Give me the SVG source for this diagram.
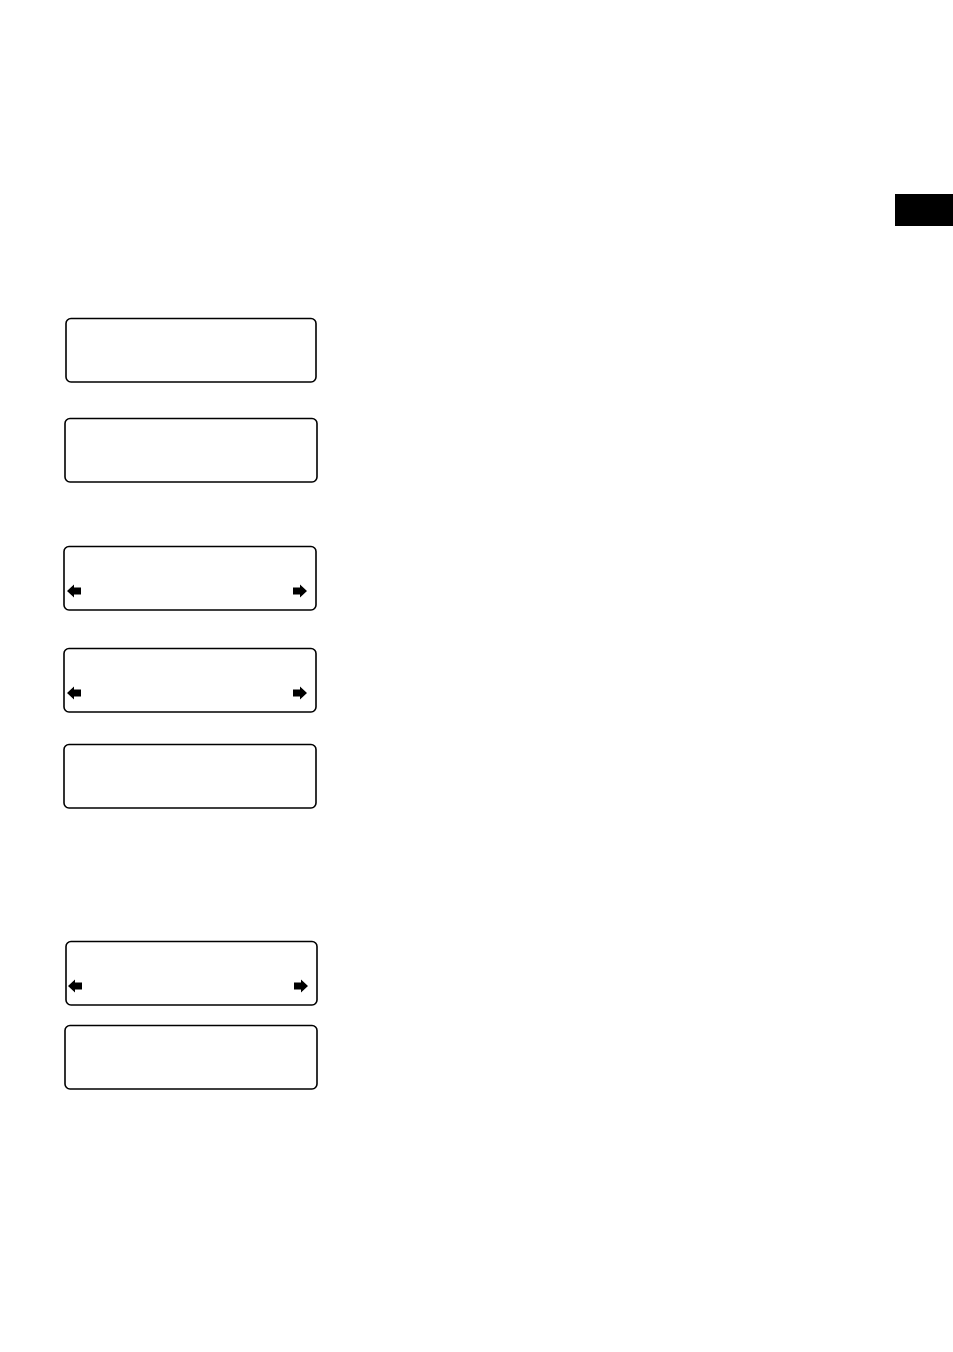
<svg xmlns="http://www.w3.org/2000/svg" width="953" height="1352" viewBox="0 0 953 1352">
<style>
.box{fill:#fff;stroke:#000;stroke-width:1.6}
.arr{fill:#000}
</style>
<defs>
<path id="la" d="M0,0 L7,-6.5 L7,-3.5 L14,-3.5 L14,3.5 L7,3.5 L7,6.5 Z"/>
<path id="ra" d="M0,0 L-7,-6.5 L-7,-3.5 L-14,-3.5 L-14,3.5 L-7,3.5 L-7,6.5 Z"/>
</defs>
<rect x="0" y="0" width="953" height="1352" fill="#fff"/>
<rect id="tab" x="895" y="194" width="58" height="32" fill="#000"/>
<g id="node1"><rect class="box" x="66" y="318.5" width="250" height="63.5" rx="5"/></g>
<g id="node2"><rect class="box" x="65" y="418.5" width="252" height="63.5" rx="5"/></g>
<g id="node3"><rect class="box" x="64" y="546.5" width="252" height="63.5" rx="5"/>
<use class="arr" href="#la" x="67" y="591"/><use class="arr" href="#ra" x="307" y="591"/></g>
<g id="node4"><rect class="box" x="64" y="648.5" width="252" height="63.5" rx="5"/>
<use class="arr" href="#la" x="67" y="693"/><use class="arr" href="#ra" x="307" y="693"/></g>
<g id="node5"><rect class="box" x="64" y="744.5" width="252" height="63.5" rx="5"/></g>
<g id="node6"><rect class="box" x="66" y="941.5" width="251" height="63.5" rx="5"/>
<use class="arr" href="#la" x="68" y="986"/><use class="arr" href="#ra" x="308" y="986"/></g>
<g id="node7"><rect class="box" x="65" y="1025.5" width="252" height="63.5" rx="5"/></g>
<g id="connectors"></g>
</svg>
